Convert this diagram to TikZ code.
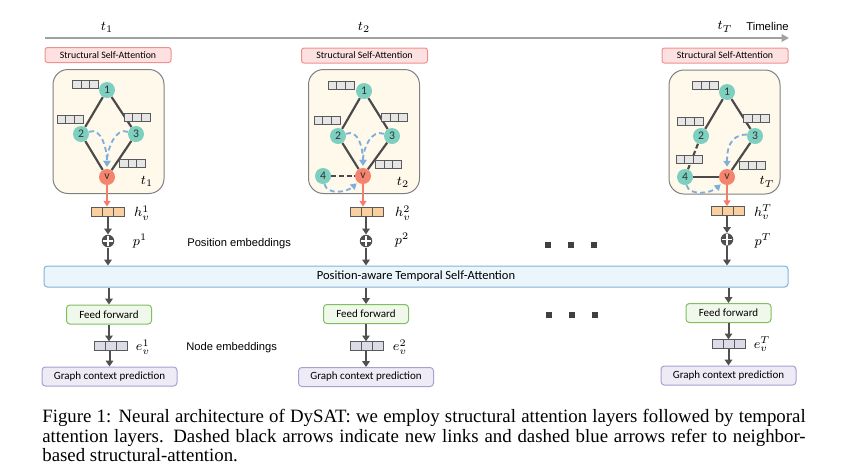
\documentclass[tikz,border=0pt]{standalone}
\usepackage{fontspec}
\setmainfont{Liberation Serif}
\newfontfamily\calfont{Carlito}
\newfontfamily\arialfont{Liberation Sans}
\usetikzlibrary{arrows.meta,calc}
\definecolor{cTeal}{HTML}{7DCFBF}
\definecolor{cV}{HTML}{F5836E}
\definecolor{cSsaF}{HTML}{FDE1E1}
\definecolor{cSsaD}{HTML}{F0908C}
\definecolor{cGboxF}{HTML}{FFF9EC}
\definecolor{cGboxD}{HTML}{808080}
\definecolor{cEmbF}{HTML}{E6E6E6}
\definecolor{cEmbD}{HTML}{5A5A5A}
\definecolor{cHF}{HTML}{FAD0A0}
\definecolor{cEF}{HTML}{DCDCE8}
\definecolor{cTsaF}{HTML}{EAF5FC}
\definecolor{cTsaD}{HTML}{86B2D8}
\definecolor{cFfF}{HTML}{EFF8EA}
\definecolor{cFfD}{HTML}{80BF60}
\definecolor{cGcpF}{HTML}{EEEBF7}
\definecolor{cGcpD}{HTML}{A9A0D0}
\definecolor{cArrow}{HTML}{505050}
\definecolor{cEdge}{HTML}{4A4A4A}
\definecolor{cBlue}{HTML}{7FAFD8}
\definecolor{cRed}{HTML}{F47C6C}
\definecolor{cTime}{HTML}{A0A0A0}
\tikzset{
  ssabox/.style={draw=cSsaD, fill=cSsaF, rounded corners=1.5pt, line width=0.6pt,
    minimum width=126*0.6pt, minimum height=15*0.6pt, inner sep=0pt,
    font=\calfont\fontsize{5.9}{6}\selectfont},
  gbox/.style={draw=cGboxD, fill=cGboxF, rounded corners=9pt, line width=0.6pt,
    minimum width=111*0.6pt, minimum height=124*0.6pt, inner sep=0pt},
  gnode/.style={circle, fill=cTeal, minimum size=9.6pt, inner sep=0pt,
    font=\calfont\fontsize{7}{7}\selectfont, text=black!80},
  vnode/.style={gnode, fill=cV},
  edge/.style={draw=cEdge, line width=1.3pt},
  newedge/.style={edge, dash pattern=on 3pt off 1.6pt},
  attn/.style={draw=cBlue, line width=1.1pt, dash pattern=on 3pt off 2pt,
    -{Triangle[length=3.5pt,width=4.2pt]}},
  redarr/.style={draw=cRed, line width=0.9pt, -{Triangle[length=3.5pt,width=4.2pt]}},
  flow/.style={draw=cArrow, line width=1.2pt, -{Triangle[length=3.5pt,width=4.5pt]}},
  cells/.style={draw=cEmbD, fill=#1, line width=0.5pt, inner sep=0pt,
    path picture={\draw[cEmbD, line width=0.5pt]
      ($(path picture bounding box.north west)!0.3333!(path picture bounding box.north east)$) --
      ($(path picture bounding box.south west)!0.3333!(path picture bounding box.south east)$)
      ($(path picture bounding box.north west)!0.6667!(path picture bounding box.north east)$) --
      ($(path picture bounding box.south west)!0.6667!(path picture bounding box.south east)$);}},
  embbar/.style={cells=cEmbF, minimum width=26*0.6pt, minimum height=8*0.6pt},
  hbar/.style={cells=cHF, minimum width=33*0.6pt, minimum height=9*0.6pt},
  ebar/.style={cells=cEF, minimum width=33*0.6pt, minimum height=8.5*0.6pt},
  oplus/.style={circle, fill=cArrow, minimum size=12.5*0.6pt, inner sep=0pt,
    path picture={\draw[white, line width=0.9pt]
      ($(path picture bounding box.north)+(0,1.2)$) -- ($(path picture bounding box.south)+(0,-1.2)$)
      ($(path picture bounding box.west)+(1.2,0)$) -- ($(path picture bounding box.east)+(-1.2,0)$);}},
  mlabel/.style={inner sep=0pt, font=\fontsize{8}{9}\selectfont},
  tsabox/.style={draw=cTsaD, fill=cTsaF, rounded corners=2pt, line width=0.6pt,
    minimum width=744*0.6pt, minimum height=21*0.6pt, inner sep=0pt,
    font=\calfont\fontsize{7.5}{8}\selectfont},
  ffbox/.style={draw=cFfD, fill=cFfF, rounded corners=2pt, line width=0.6pt,
    minimum width=85*0.6pt, minimum height=19*0.6pt, inner sep=0pt,
    font=\calfont\fontsize{6.6}{7}\selectfont},
  gcpbox/.style={draw=cGcpD, fill=cGcpF, rounded corners=2pt, line width=0.6pt,
    minimum width=135*0.6pt, minimum height=19*0.6pt, inner sep=0pt,
    font=\calfont\fontsize{6.6}{7}\selectfont},
  sidetext/.style={inner sep=0pt, anchor=west, font=\arialfont\fontsize{6.7}{8}\selectfont},
  dotsq/.style={fill=black!75, minimum size=6*0.6pt, inner sep=0pt},
  captext/.style={inner sep=0pt, anchor=base west, font=\fontsize{11.3}{12}\selectfont}
}
\begin{document}
\begin{tikzpicture}[x=0.6pt, y=-0.6pt]
\useasboundingbox (0,0) rectangle (858,470);

% timeline
\coordinate (tl0) at (45,38);
\coordinate (tl1) at (789,38);
\draw[draw=cTime, line width=1.2pt, -{Triangle[length=4.5pt,width=4.5pt]}] (tl0) -- (tl1);
\node[mlabel] (lt1) at (107,27) {$t_1$};
\node[mlabel] (lt2) at (364,27) {$t_2$};
\node[mlabel] (ltT) at (725,27) {$t_T$};
\node[inner sep=0pt, anchor=east, font=\arialfont\fontsize{6.8}{8}\selectfont] (tltext) at (789,26) {Timeline};

% structural self-attention labels
\node[ssabox] (ssa1) at (108,55) {Structural Self-Attention};
\node[ssabox] (ssa2) at (364.5,55.5) {Structural Self-Attention};
\node[ssabox] (ssa3) at (725,55.5) {Structural Self-Attention};

% ---------- column 1 graph ----------
\node[gbox] (g1) at (108.5,131.5) {};
\node[gnode] (c1n1) at (107,90) {1};
\node[gnode] (c1n2) at (81,134) {2};
\node[gnode] (c1n3) at (136,134) {3};
\node[vnode] (c1v) at (107,177) {v};
\draw[edge] (c1n1) -- (c1n2);
\draw[edge] (c1n1) -- (c1n3);
\draw[edge] (c1n2) -- (c1v);
\draw[edge] (c1n3) -- (c1v);
\draw[attn] (c1n2.15) .. controls +(12,-5) and +(0,-18) .. ($(c1v.north)+(0,-2)$);
\draw[attn] (c1n3.165) .. controls +(-12,-5) and +(0,-18) .. ($(c1v.north)+(0,-2)$);
\node[embbar] (c1e1) at (85.5,84) {};
\node[embbar] (c1e2) at (70,119.5) {};
\node[embbar] (c1e3) at (137,117) {};
\node[embbar] (c1e4) at (132.5,163) {};
\node[mlabel] (c1t) at (147,181) {$t_1$};

% ---------- column 2 graph ----------
\node[gbox] (g2) at (364,131.5) {};
\node[gnode] (c2n1) at (364,91) {1};
\node[gnode] (c2n2) at (338,136) {2};
\node[gnode] (c2n3) at (392,136) {3};
\node[gnode] (c2n4) at (323,176) {4};
\node[vnode] (c2v) at (363,176) {v};
\draw[edge] (c2n1) -- (c2n2);
\draw[edge] (c2n1) -- (c2n3);
\draw[edge] (c2n2) -- (c2v);
\draw[edge] (c2n3) -- (c2v);
\draw[newedge] (c2n4) -- (c2v);
\draw[attn] (c2n2.15) .. controls +(12,-5) and +(0,-18) .. ($(c2v.north)+(0,-2)$);
\draw[attn] (c2n3.165) .. controls +(-12,-5) and +(0,-18) .. ($(c2v.north)+(0,-2)$);
\draw[attn] (c2n4.-80) .. controls +(3,11) and +(-10,9) .. ($(c2v.-130)+(-1,1)$);
\node[embbar] (c2e1) at (341,85) {};
\node[embbar] (c2e2) at (327,120.5) {};
\node[embbar] (c2e3) at (394.5,117) {};
\node[embbar] (c2e4) at (388.5,164.5) {};
\node[mlabel] (c2t) at (403,182) {$t_2$};

% ---------- column 3 graph ----------
\node[gbox] (g3) at (724.5,132) {};
\node[gnode] (c3n1) at (727,92) {1};
\node[gnode] (c3n2) at (701,136) {2};
\node[gnode] (c3n3) at (755,136) {3};
\node[gnode] (c3n4) at (685,177) {4};
\node[vnode] (c3v) at (727,177) {v};
\draw[edge] (c3n1) -- (c3n2);
\draw[edge] (c3n1) -- (c3n3);
\draw[newedge] (c3n2) -- (c3n4);
\draw[edge] (c3n4) -- (c3v);
\draw[edge] (c3n3) -- (c3v);
\draw[attn] (c3n3.170) .. controls +(-18,0) and +(0,-16) .. ($(c3v.north)+(0,-2)$);
\draw[attn] (c3n4.-80) .. controls +(3,11) and +(-10,9) .. ($(c3v.-130)+(-1,1)$);
\node[embbar] (c3e1) at (705.5,85) {};
\node[embbar] (c3e2) at (690,121) {};
\node[embbar] (c3e3) at (756.5,118.5) {};
\node[embbar] (c3e4) at (689,159) {};
\node[embbar] (c3e5) at (752.5,165) {};
\node[mlabel] (c3t) at (767,182) {$t_T$};

% ---------- lower part ----------
\node[tsabox] (tsa) at (416,276.5) {Position-aware Temporal Self-Attention};

% column 1
\node[hbar] (c1h) at (107.5,211.5) {};
\node[oplus] (c1p) at (108,241) {};
\node[ffbox] (c1ff) at (109,314.5) {Feed forward};
\node[ebar] (c1eo) at (110.5,346) {};
\node[gcpbox] (c1g) at (109.5,376.5) {Graph context prediction};
\draw[redarr] (c1v.south) -- (c1v.south |- c1h.north);
\draw[flow] (c1h.south -| c1p.north) -- (c1p.north);
\draw[flow] (c1p.south) -- (c1p.south |- tsa.north);
\draw[flow] (tsa.south -| c1ff.north) -- (c1ff.north);
\draw[flow] (c1ff.south) -- (c1ff.south |- c1eo.north);
\draw[flow] (c1eo.south -| c1g.north) -- (c1g.north);
\node[mlabel] (c1hl) at (142,213) {$h_v^1$};
\node[mlabel] (c1pl) at (140,241) {$p^1$};
\node[mlabel] (c1el) at (143,347) {$e_v^1$};

% column 2
\node[hbar] (c2h) at (366.5,211.5) {};
\node[oplus] (c2p) at (366,241) {};
\node[ffbox] (c2ff) at (366,314) {Feed forward};
\node[ebar] (c2eo) at (366.5,346) {};
\node[gcpbox] (c2g) at (366,377) {Graph context prediction};
\draw[redarr] (c2v.south) -- (c2v.south |- c2h.north);
\draw[flow] (c2h.south -| c2p.north) -- (c2p.north);
\draw[flow] (c2p.south) -- (c2p.south |- tsa.north);
\draw[flow] (tsa.south -| c2ff.north) -- (c2ff.north);
\draw[flow] (c2ff.south) -- (c2ff.south |- c2eo.north);
\draw[flow] (c2eo.south -| c2g.north) -- (c2g.north);
\node[mlabel] (c2hl) at (403,213) {$h_v^2$};
\node[mlabel] (c2pl) at (402,240) {$p^2$};
\node[mlabel] (c2el) at (400,347) {$e_v^2$};

% column 3
\node[hbar] (c3h) at (727.5,211) {};
\node[oplus] (c3p) at (727,239.5) {};
\node[ffbox] (c3ff) at (728.5,313) {Feed forward};
\node[ebar] (c3eo) at (729,344) {};
\node[gcpbox] (c3g) at (728.5,375.5) {Graph context prediction};
\draw[redarr] (c3v.south) -- (c3v.south |- c3h.north);
\draw[flow] (c3h.south -| c3p.north) -- (c3p.north);
\draw[flow] (c3p.south) -- (c3p.south |- tsa.north);
\draw[flow] (tsa.south -| c3ff.north) -- (c3ff.north);
\draw[flow] (c3ff.south) -- (c3ff.south |- c3eo.north);
\draw[flow] (c3eo.south -| c3g.north) -- (c3g.north);
\node[mlabel] (c3hl) at (763,212) {$h_v^T$};
\node[mlabel] (c3pl) at (763,241) {$p^T$};
\node[mlabel] (c3el) at (762,344) {$e_v^T$};

% side texts
\node[sidetext] (posemb) at (187,244) {Position embeddings};
\node[sidetext] (nodeemb) at (186,348) {Node embeddings};

% ellipses
\node[dotsq] (d1a) at (548,245) {};
\node[dotsq] (d1b) at (571,245) {};
\node[dotsq] (d1c) at (594,245) {};
\node[dotsq] (d2a) at (549,315) {};
\node[dotsq] (d2b) at (572,315) {};
\node[dotsq] (d2c) at (595,315) {};

% caption
\node[captext] (cap1) at (42,422.3) {\makebox[458pt][s]{Figure 1: Neural architecture of DySAT: we employ structural attention layers followed by temporal}};
\node[captext] (cap2) at (42,442.3) {\makebox[458pt][s]{attention layers. Dashed black arrows indicate new links and dashed blue arrows refer to neighbor-}};
\node[captext] (cap3) at (42,461.7) {based structural-attention.};
\end{tikzpicture}
\end{document}
